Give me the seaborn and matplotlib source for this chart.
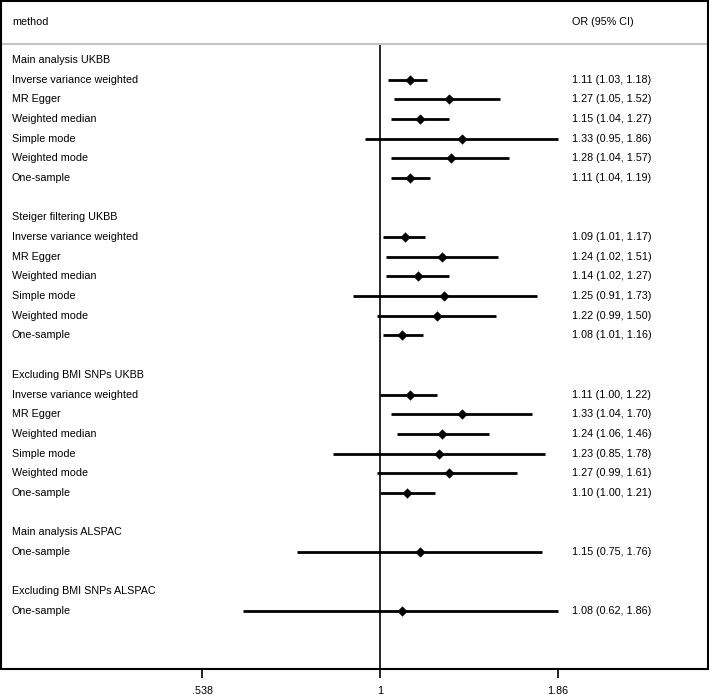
import numpy as np
import pandas as pd
import matplotlib
matplotlib.use("Agg")
import matplotlib.pyplot as plt
import seaborn as sns
from matplotlib.transforms import blended_transform_factory
from matplotlib.ticker import NullLocator

# ---------------- data ----------------
groups = ["Main analysis UKBB", "Steiger filtering UKBB", "Excluding BMI SNPs UKBB",
          "Main analysis ALSPAC", "Excluding BMI SNPs ALSPAC"]
ukbb_methods = ["Inverse variance weighted", "MR Egger", "Weighted median",
                "Simple mode", "Weighted mode", "One-sample"]
alspac_methods = ["One-sample"]

main_ukbb_or = [1.11, 1.27, 1.15, 1.33, 1.28, 1.11]
main_ukbb_lo = [1.03, 1.05, 1.04, 0.95, 1.04, 1.04]
main_ukbb_hi = [1.18, 1.52, 1.27, 1.86, 1.57, 1.19]

steiger_or = [1.09, 1.24, 1.14, 1.25, 1.22, 1.08]
steiger_lo = [1.01, 1.02, 1.02, 0.91, 0.99, 1.01]
steiger_hi = [1.17, 1.51, 1.27, 1.73, 1.50, 1.16]

excl_ukbb_or = [1.11, 1.33, 1.24, 1.23, 1.27, 1.10]
excl_ukbb_lo = [1.00, 1.04, 1.06, 0.85, 0.99, 1.00]
excl_ukbb_hi = [1.22, 1.70, 1.46, 1.78, 1.61, 1.21]

main_alspac_or = [1.15]
main_alspac_lo = [0.75]
main_alspac_hi = [1.76]

excl_alspac_or = [1.08]
excl_alspac_lo = [0.62]
excl_alspac_hi = [1.86]

tick_vals = [0.538, 1.0, 1.86]
tick_labels = [".538", "1", "1.86"]
header_left = "method"
header_right = "OR (95% CI)"

# ---------------- build rows ----------------
group_data = [
    (ukbb_methods, main_ukbb_or, main_ukbb_lo, main_ukbb_hi),
    (ukbb_methods, steiger_or, steiger_lo, steiger_hi),
    (ukbb_methods, excl_ukbb_or, excl_ukbb_lo, excl_ukbb_hi),
    (alspac_methods, main_alspac_or, main_alspac_lo, main_alspac_hi),
    (alspac_methods, excl_alspac_or, excl_alspac_lo, excl_alspac_hi),
]
heads = []   # (row, label)
recs = []
r = 0
for g, (meths, o, lo, hi) in zip(groups, group_data):
    heads.append((r, g))
    r += 1
    for m, oo, ll, hh in zip(meths, o, lo, hi):
        recs.append(dict(row=r, label=m, est=oo, lo=ll, hi=hh))
        r += 1
    r += 1
df = pd.DataFrame(recs)

# ---------------- plot ----------------
sns.set_theme(style="white")
plt.rcParams['font.family'] = ['Liberation Sans', 'DejaVu Sans']
plt.rcParams['text.color'] = 'black'
plt.rcParams['xtick.color'] = 'black'
FS = 7.75

fig = plt.figure(figsize=(7.09, 6.95), dpi=100)
ax = fig.add_axes([1 / 709, 26 / 695, 707 / 709, 668 / 695])
ax.set_xscale("log")
ax.set_xlim(0.267, 3.136)
ax.set_ylim(30.95, -3.0)

# confidence intervals
ax.hlines(df["row"], df["lo"], df["hi"], color="black", lw=2.0, zorder=2)
# point estimates
sns.scatterplot(data=df, x="est", y="row", marker="D", s=24, color="black",
                edgecolor="black", linewidth=0.3, ax=ax, zorder=3, legend=False)

# null line
ax.plot([1, 1], [-0.81, 30.95], color="black", lw=1.2, zorder=1)
# header separator
ax.axhline(-0.81, color="#c4c4c4", lw=1.5, zorder=1)

tr = blended_transform_factory(ax.transAxes, ax.transData)
xl = 11 / 707
xr = 571 / 707
tk = dict(transform=tr, ha="left", va="center", fontsize=FS, color="black")
ax.text(xl, -1.93, header_left, **tk)
ax.text(xr, -1.93, header_right, **tk)
for rr, g in heads:
    ax.text(xl, rr, g, **tk)
for _, rec in df.iterrows():
    ax.text(xl, rec["row"], rec["label"], **tk)
    ax.text(xr, rec["row"], f"{rec['est']:.2f} ({rec['lo']:.2f}, {rec['hi']:.2f})", **tk)

ax.set_xticks(tick_vals)
ax.set_xticklabels(tick_labels)
ax.xaxis.set_minor_locator(NullLocator())
ax.set_yticks([])
ax.tick_params(axis="x", bottom=True, direction="out", length=6.5, width=1.2,
               pad=6.0, labelsize=FS, colors="black", labelcolor="black")
ax.set_xlabel("")
ax.set_ylabel("")
for s in ax.spines.values():
    s.set_visible(True)
    s.set_color("black")
    s.set_linewidth(1.5)

fig.savefig("out.png", dpi=100, facecolor="white")
